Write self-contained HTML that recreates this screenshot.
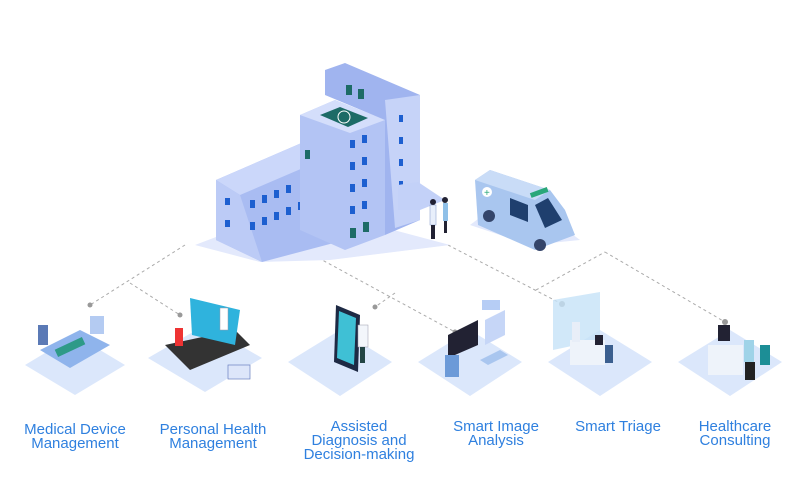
<!DOCTYPE html>
<html><head><meta charset="utf-8"><style>
html,body{margin:0;padding:0;background:#fff;}
.w{position:relative;width:800px;height:500px;overflow:hidden;font-family:"Liberation Sans",sans-serif;}
.l{position:absolute;color:#2f80df;font-size:15px;text-align:center;line-height:14px;width:160px;}
</style></head><body><div class="w">
<svg width="800" height="500" style="position:absolute;left:0;top:0">
<g stroke="#aaa" stroke-width="1" stroke-dasharray="3,3" fill="none">
<line x1="185" y1="245" x2="90" y2="305"/>
<line x1="130" y1="283" x2="180" y2="315"/>
<line x1="313" y1="255" x2="455" y2="332"/>
<line x1="395" y1="293" x2="375" y2="307"/>
<line x1="448" y1="245" x2="562" y2="304"/>
<line x1="536" y1="290" x2="605" y2="252"/>
<line x1="605" y1="252" x2="725" y2="322"/>
</g>
<g fill="#999"><circle cx="90" cy="305" r="2.5"/><circle cx="180" cy="315" r="2.5"/><circle cx="375" cy="307" r="2.5"/><circle cx="455" cy="332" r="2.5"/><circle cx="562" cy="304" r="3"/><circle cx="725" cy="322" r="3"/></g>
<g fill="#dbe7fb">
<polygon points="75,335 125,365 75,395 25,365"/>
<polygon points="205,325 262,358 205,392 148,358"/>
<polygon points="340,330 392,362 340,396 288,362"/>
<polygon points="470,330 522,362 470,396 418,362"/>
<polygon points="600,330 652,362 600,396 548,362"/>
<polygon points="730,330 782,362 730,396 678,362"/>
</g>
<polygon points="195,245 300,205 450,245 330,260 260,262" fill="#e3e9fc"/>
<polygon points="216,180 320,135 345,150 345,240 262,262 216,240" fill="#a9bcf2"/>
<polygon points="216,180 320,135 345,150 240,195" fill="#cbd7fa"/>
<polygon points="216,180 240,195 262,262 216,240" fill="#bccbf6"/>
<g fill="#1d5fd0"><rect x="250" y="200" width="5" height="8"/><rect x="262" y="195" width="5" height="8"/><rect x="274" y="190" width="5" height="8"/><rect x="286" y="185" width="5" height="8"/><rect x="250" y="222" width="5" height="8"/><rect x="262" y="217" width="5" height="8"/><rect x="274" y="212" width="5" height="8"/><rect x="286" y="207" width="5" height="8"/><rect x="298" y="202" width="5" height="8"/><rect x="225" y="198" width="5" height="7"/><rect x="225" y="220" width="5" height="7"/></g>
<polygon points="300,115 335,100 385,120 385,235 345,250 300,230" fill="#b3c4f4"/>
<polygon points="300,115 335,100 385,120 350,133" fill="#d4defb"/>
<polygon points="325,70 345,63 420,95 420,220 385,235 385,120 325,95" fill="#a0b4ef"/>
<polygon points="385,100 420,95 420,220 395,228" fill="#c6d3f8"/>
<polygon points="320,115 340,107 368,118 348,127" fill="#1d6b66"/>
<circle cx="344" cy="117" r="6" fill="none" stroke="#fff" stroke-width="1"/>
<g fill="#1d5fd0"><rect x="350" y="140" width="5" height="8"/><rect x="362" y="135" width="5" height="8"/><rect x="350" y="162" width="5" height="8"/><rect x="362" y="157" width="5" height="8"/><rect x="350" y="184" width="5" height="8"/><rect x="362" y="179" width="5" height="8"/><rect x="350" y="206" width="5" height="8"/><rect x="362" y="201" width="5" height="8"/><rect x="399" y="115" width="4" height="7"/><rect x="399" y="137" width="4" height="7"/><rect x="399" y="159" width="4" height="7"/><rect x="399" y="181" width="4" height="7"/></g>
<g fill="#1d6b66"><rect x="346" y="85" width="6" height="10"/><rect x="358" y="89" width="6" height="10"/><rect x="350" y="228" width="6" height="10"/><rect x="363" y="222" width="6" height="10"/><rect x="305" y="150" width="5" height="9"/></g>
<polygon points="398,185 418,182 445,200 420,210 398,210" fill="#c3d1f8"/>
<rect x="430" y="205" width="6" height="20" fill="#e8effb" stroke="#7f96c8" stroke-width=".5"/><rect x="431" y="225" width="4" height="14" fill="#223"/><circle cx="433" cy="202" r="3" fill="#223"/>
<rect x="443" y="203" width="5" height="18" fill="#8fc0e8"/><circle cx="445" cy="200" r="3" fill="#223"/><rect x="444" y="221" width="3" height="12" fill="#223"/>
<polygon points="470,225 530,245 580,240 560,225 490,210" fill="#e3e9fc"/>
<polygon points="475,180 490,170 550,190 565,210 575,235 535,250 478,225" fill="#a9c6ef"/>
<polygon points="475,180 490,170 550,190 535,200" fill="#c9dcf7"/>
<polygon points="535,205 548,198 562,220 545,228" fill="#1f3f6e"/>
<polygon points="510,198 528,205 528,222 510,215" fill="#1f3f6e"/>
<rect x="530" y="190" width="18" height="5" fill="#2aa77a" transform="rotate(-20 539 192)"/>
<circle cx="487" cy="192" r="5" fill="#fff"/><text x="484" y="196" fill="#2aa77a" font-size="10" font-family="Liberation Sans">+</text>
<circle cx="489" cy="216" r="6" fill="#34456a"/><circle cx="540" cy="245" r="6" fill="#34456a"/>
<polygon points="40,350 80,330 110,345 70,368" fill="#8fb4ec"/><rect x="55" y="343" width="30" height="8" fill="#2e9a88" transform="rotate(-25 70 347)"/><rect x="90" y="316" width="14" height="18" fill="#b4cbf2"/><rect x="38" y="325" width="10" height="20" fill="#5b7ab6"/>
<polygon points="165,345 235,330 250,345 190,370" fill="#333"/><polygon points="190,298 240,310 235,345 192,335" fill="#2fb3dd"/><rect x="175" y="328" width="8" height="18" fill="#e33"/><rect x="220" y="308" width="8" height="22" fill="#fff" stroke="#99a" stroke-width=".5"/><rect x="228" y="365" width="22" height="14" fill="#dde6fa" stroke="#6a7fbf" stroke-width=".7"/>
<polygon points="336,305 360,315 358,372 334,362" fill="#1e2a44"/><polygon points="339,311 356,318 354,365 337,358" fill="#3fc0d5"/><rect x="358" y="325" width="10" height="22" fill="#f3f6fb" stroke="#99a" stroke-width=".5"/><rect x="360" y="347" width="5" height="16" fill="#244"/>
<polygon points="448,335 478,320 478,345 448,358" fill="#223"/><polygon points="485,320 505,310 505,335 485,345" fill="#c6d6f7"/><polygon points="480,360 500,350 508,355 488,365" fill="#a9c6ef"/><rect x="482" y="300" width="18" height="10" fill="#b6cdf5"/><rect x="445" y="355" width="14" height="22" fill="#6c9ad8"/>
<polygon points="553,300 600,292 600,340 553,350" fill="#c5e2f8" opacity=".8"/><rect x="570" y="340" width="35" height="25" fill="#eef3fa"/><rect x="572" y="322" width="8" height="20" fill="#e8eef8"/><rect x="605" y="345" width="8" height="18" fill="#3b5f8f"/><rect x="595" y="335" width="8" height="10" fill="#223"/>
<rect x="708" y="345" width="35" height="30" fill="#eef3fa"/><rect x="718" y="325" width="12" height="16" fill="#223"/><rect x="744" y="340" width="10" height="22" fill="#9fd3e8"/><rect x="760" y="345" width="10" height="20" fill="#1c8e96"/><rect x="745" y="362" width="10" height="18" fill="#222"/>
</svg>
<div class="l" style="left:-5px;top:423px">Medical Device<br>Management</div>
<div class="l" style="left:133px;top:423px">Personal Health<br>Management</div>
<div class="l" style="left:279px;top:420px">Assisted<br>Diagnosis and<br>Decision-making</div>
<div class="l" style="left:416px;top:420px">Smart Image<br>Analysis</div>
<div class="l" style="left:538px;top:420px">Smart Triage</div>
<div class="l" style="left:655px;top:420px">Healthcare<br>Consulting</div>
</div></body></html>
